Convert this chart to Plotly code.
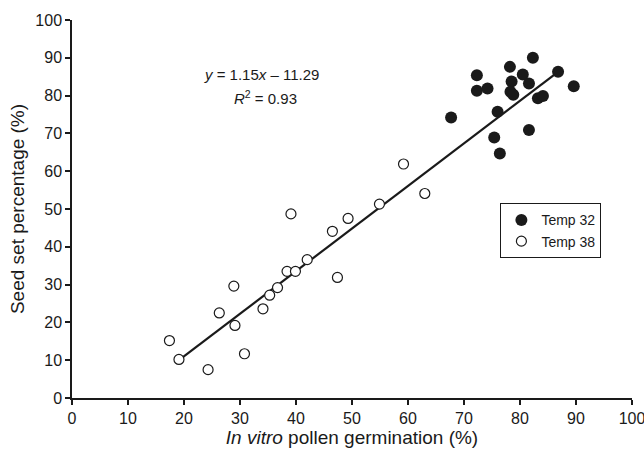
import plotly.graph_objects as go

# Temp 32 (filled)
t32_x = [67.7, 72.3, 72.3, 74.2, 76.0, 75.4, 76.4, 78.2, 78.5, 78.3, 80.5, 81.6, 82.3, 81.6, 83.2, 84.1, 86.8, 89.6, 78.8]
t32_y = [74.2, 85.4, 81.3, 81.9, 75.7, 68.9, 64.7, 87.6, 83.7, 81.0, 85.6, 83.2, 90.0, 70.9, 79.3, 79.9, 86.3, 82.5, 80.2]

# Temp 38 (open)
t38_x = [17.4, 19.1, 24.3, 26.3, 28.9, 29.1, 30.8, 34.1, 35.3, 36.7, 38.4, 39.1, 39.9, 42.0, 46.5, 47.4, 49.3, 54.9, 59.2, 63.0]
t38_y = [15.2, 10.2, 7.5, 22.5, 29.6, 19.2, 11.7, 23.6, 27.2, 29.2, 33.5, 48.7, 33.5, 36.6, 44.1, 31.9, 47.5, 51.3, 61.9, 54.1]

# regression line endpoints (as drawn)
fit_x = [19.8, 86.8]
fit_y = [10.8, 86.3]

ticks = list(range(0, 101, 10))

FONT = "Liberation Sans, Arial, sans-serif"
INK = "#1a1a1a"

fig = go.Figure()
fig.add_trace(go.Scatter(x=fit_x, y=fit_y, mode="lines",
                         line=dict(color=INK, width=2.2), showlegend=False))
fig.add_trace(go.Scatter(x=t32_x, y=t32_y, mode="markers", name="Temp 32",
                         marker=dict(color=INK, size=12, line=dict(width=0))))
fig.add_trace(go.Scatter(x=t38_x, y=t38_y, mode="markers", name="Temp 38",
                         marker=dict(color="white", size=10, line=dict(color=INK, width=1.2))))

fig.add_annotation(x=0.3375, y=0.857, xref="paper", yref="paper",
                   xanchor="center", yanchor="middle",
                   text="<i>y</i> = 1.15<i>x</i> – 11.29",
                   showarrow=False, font=dict(size=15, color=INK, family=FONT))
fig.add_annotation(x=0.345, y=0.796, xref="paper", yref="paper",
                   xanchor="center", yanchor="middle",
                   text="<i>R</i><sup>2</sup> = 0.93",
                   showarrow=False, font=dict(size=15, color=INK, family=FONT))

fig.update_layout(
    width=644, height=451,
    margin=dict(l=72, r=12, t=20, b=53),
    plot_bgcolor="white", paper_bgcolor="white",
    font=dict(family=FONT, size=16, color=INK),
    legend=dict(x=0.765, y=0.515, xanchor="left", yanchor="top",
                bordercolor=INK, borderwidth=1, bgcolor="white",
                font=dict(size=14), itemwidth=30, tracegroupgap=0),
    xaxis=dict(range=[0, 100], tickvals=ticks, showgrid=False, zeroline=False,
               showline=True, linecolor=INK, linewidth=1.5,
               ticks="outside", ticklen=5, tickwidth=1.5, tickcolor=INK,
               ticklabeloverflow="allow", automargin=False,
               title=dict(text="<i>In vitro</i> pollen germination (%)", standoff=0),
               tickfont=dict(size=16)),
    yaxis=dict(range=[0, 100], tickvals=ticks, showgrid=False, zeroline=False,
               showline=True, linecolor=INK, linewidth=1.5,
               ticks="outside", ticklen=5, tickwidth=1.5, tickcolor=INK,
               ticklabeloverflow="allow", automargin=False,
               title=dict(text="Seed set percentage (%)", standoff=6),
               tickfont=dict(size=16)),
)

fig.write_html("out.html")
